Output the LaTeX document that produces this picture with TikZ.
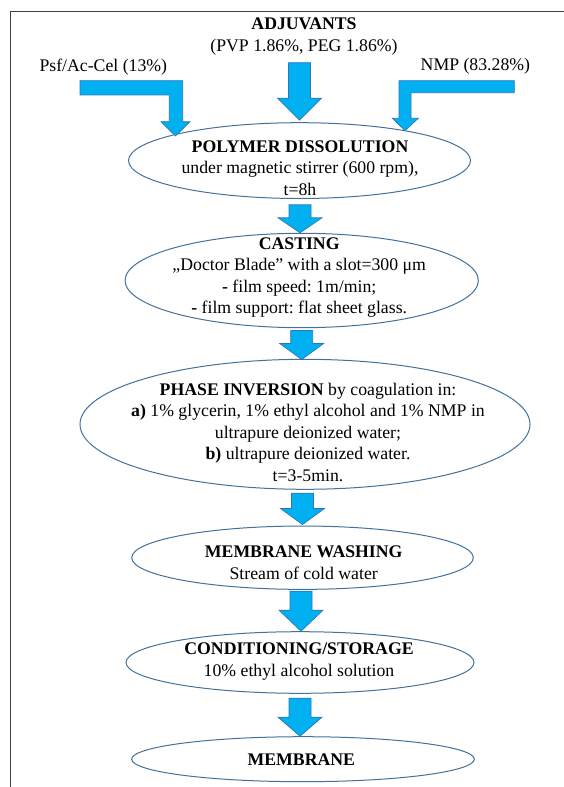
\documentclass[tikz,border=0pt]{standalone}
\usepackage{fontspec}
\setmainfont{Liberation Serif}
\usetikzlibrary{calc,shapes.geometric}
\definecolor{arrowfill}{RGB}{0,176,240}
\definecolor{arrowline}{RGB}{46,117,182}
\definecolor{ellline}{RGB}{65,113,156}
\definecolor{frameline}{RGB}{64,64,64}
\frenchspacing
\begin{document}
\begin{tikzpicture}[x=0.75pt,y=-0.75pt,
  txt/.style={font=\fontsize{13.3}{16.1}\selectfont, align=center, inner sep=0pt},
  ell/.style={ellipse, draw=ellline, line width=0.75pt, inner sep=0pt},
  arrowshape/.style={fill=arrowfill, draw=arrowline, line width=0.5pt},
  blockarrow/.style={arrowshape,
    to path={let \p1=(\tikztostart), \p2=(\tikztotarget) in
      (\x2-8.25pt,\y1) -- (\x2+8.25pt,\y1) -- (\x2+8.25pt,\y2+#1*0.75pt)
      -- (\x2+16.5pt,\y2+#1*0.75pt) -- (\x2,\y2) -- (\x2-16.5pt,\y2+#1*0.75pt)
      -- (\x2-8.25pt,\y2+#1*0.75pt) -- cycle}},
  blockarrow/.default=18]
\useasboundingbox (0,0) rectangle (563,787);

% frame
\draw[frameline, line width=0.75pt] (10.7,790) -- (10.7,12) -- (566,12);

% top labels
\node[txt] (adj) at (304,36.3) {\textbf{ADJUVANTS}\\(PVP 1.86\%, PEG 1.86\%)};
\node[txt] (psf) at (103.3,66.7) {Psf/Ac-Cel (13\%)};
\node[txt] (nmp) at (475.4,66.7) {NMP (83.28\%)};

% ellipses
\node[ell, minimum width=256.5pt, minimum height=56.85pt] (e1) at (299.5,160.6) {};
\node[ell, minimum width=265pt, minimum height=70.8pt] (e2) at (301.7,280.5) {};
\node[ell, minimum width=337.5pt, minimum height=97.5pt] (e3) at (305,424.3) {};
\node[ell, minimum width=256.2pt, minimum height=47.5pt] (e4) at (302.5,557.7) {};
\node[ell, minimum width=261pt, minimum height=46.2pt] (e5) at (300,662.5) {};
\node[ell, minimum width=257pt, minimum height=33.75pt] (e6) at (303,759.2) {};

% texts
\node[txt] (t1) at (300,168) {\textbf{POLYMER DISSOLUTION}\\under magnetic stirrer (600 rpm),\\t=8h};
\node[txt] (t2) at (299.2,277.5) {\textbf{CASTING}\\„Doctor Blade” with a slot=300 μm\\\textbf{-} film speed: 1m/min;\\\textbf{-} film support: flat sheet glass.};
\node[txt] (t3) at (308,432.2) {\textbf{PHASE INVERSION} by coagulation in:\\\textbf{a)} 1\% glycerin, 1\% ethyl alcohol and 1\% NMP in\\ultrapure deionized water;\\\textbf{b)} ultrapure deionized water.\\t=3-5min.};
\node[txt] (t4) at (303.7,562.8) {\textbf{MEMBRANE WASHING}\\Stream of cold water};
\node[txt] (t5) at (299,661.7) {\textbf{CONDITIONING/STORAGE}\\10\% ethyl alcohol solution};
\node[txt] (t6) at (301.3,760) {\textbf{MEMBRANE}};

% bent input arrows
\draw[arrowshape] (80,80.7) -- (182.7,80.7) -- (182.7,121.7) -- (190,121.7)
  -- (175.5,136) -- (161,121.7) -- (169.3,121.7) -- (169.3,95) -- (80,95) -- cycle;
\draw[arrowshape] (514.3,80.7) -- (399,80.7) -- (399,118.3) -- (392.3,118.3)
  -- (405,130.7) -- (418.3,118.3) -- (411,118.3) -- (411,92.7) -- (514.3,92.7) -- cycle;

% straight block arrows
\coordinate (adjout) at (299.5,62.7);
\draw[blockarrow=22] (adjout) to ($(e1.north)+(0,-2)$);
\draw[blockarrow=15] ($(e1.south)+(0,5.8)$) to ($(e2.north)+(-1.7,0)$);
\draw[blockarrow=16] ($(e2.south)+(0,2.3)$) to ($(e3.north)+(-3.3,0.7)$);
\draw[blockarrow=16] ($(e3.south)+(0,3.4)$) to ($(e4.north)+(0,-1)$);
\draw[blockarrow=21] ($(e4.south)+(0,1.3)$) to ($(e5.north)+(1,0)$);
\draw[blockarrow=19] ($(e5.south)+(0,4.4)$) to ($(e6.north)+(-3,0)$);
\end{tikzpicture}
\end{document}
